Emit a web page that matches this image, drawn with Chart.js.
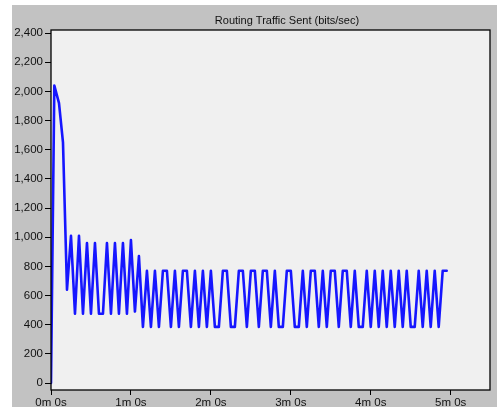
<!DOCTYPE html>
<html>
<head>
<meta charset="utf-8">
<script src="https://cdn.jsdelivr.net/npm/chart.js@4.4.0/dist/chart.umd.min.js"></script>
<style>
  html, body { margin: 0; padding: 0; background: #fff; overflow: hidden; }
  #wrap { width: 497px; height: 407px; position: relative; }
</style>
</head>
<body>
<div id="wrap"><canvas id="traffic"></canvas></div>
<script>
const chartTitle = 'Routing Traffic Sent (bits/sec)';

// sample times in seconds
const times = [
  0, 2.5, 6, 9, 12, 15, 18, 21, 24, 27, 30, 33, 36, 39, 42, 45, 48, 51, 54, 57,
  60, 63, 66, 69, 72, 75, 78, 81, 84, 87, 90, 93, 96, 99, 102, 105, 108, 111, 114, 117,
  120, 123, 126, 129, 132, 135, 138, 141, 144, 147, 150, 153, 156, 159, 162, 165, 168, 171, 174, 177,
  180, 183, 186, 189, 192, 195, 198, 201, 204, 207, 210, 213, 216, 219, 222, 225, 228, 231, 234, 237,
  240, 243, 246, 249, 252, 255, 258, 261, 264, 267, 270, 273, 276, 279, 282, 285, 288, 291, 294, 297
];

// bits/sec
const sent = [
  0, 2040, 1920, 1650, 640, 1010, 475, 1010, 475, 960, 475, 960, 475, 475, 960, 475, 960, 475, 960, 475,
  980, 490, 870, 385, 770, 385, 770, 385, 770, 770, 385, 770, 385, 770, 770, 385, 770, 385, 770, 385,
  770, 385, 385, 770, 770, 385, 385, 770, 770, 385, 770, 770, 385, 770, 770, 385, 770, 385, 385, 770,
  770, 385, 385, 770, 385, 770, 770, 385, 770, 385, 770, 770, 385, 770, 770, 385, 770, 385, 385, 770,
  385, 770, 385, 770, 385, 770, 385, 770, 385, 770, 385, 385, 770, 385, 770, 385, 770, 385, 770, 770
];

const yTicks = [0, 200, 400, 600, 800, 1000, 1200, 1400, 1600, 1800, 2000, 2200, 2400];
const xTicks = [0, 60, 120, 180, 240, 300];

const panel = {
  id: 'panel',
  beforeDraw(chart) {
    const ctx = chart.ctx;
    const a = chart.chartArea;
    ctx.save();
    ctx.fillStyle = '#ffffff';
    ctx.fillRect(0, 0, chart.width, chart.height);
    ctx.fillStyle = '#c2c2c2';
    ctx.fillRect(12, 5, chart.width - 12, chart.height - 5);
    ctx.fillStyle = '#f0f0f0';
    ctx.fillRect(a.left, a.top, a.right - a.left, a.bottom - a.top);
    ctx.fillStyle = '#111';
    ctx.font = '11px "Liberation Sans", Arial, sans-serif';
    ctx.textAlign = 'center';
    ctx.textBaseline = 'middle';
    ctx.fillText(chartTitle, 287, 21);
    ctx.restore();
  },
  afterDraw(chart) {
    const ctx = chart.ctx;
    const a = chart.chartArea;
    ctx.save();
    ctx.strokeStyle = '#000';
    ctx.lineWidth = 1.3;
    ctx.strokeRect(a.left, a.top, a.right - a.left, a.bottom - a.top);
    ctx.restore();
  }
};

const tickFont = { family: '"Liberation Sans", Arial, sans-serif', size: 11.5 };

new Chart(document.getElementById('traffic'), {
  type: 'line',
  data: {
    datasets: [{
      label: chartTitle,
      data: times.map((t, i) => ({ x: t, y: sent[i] })),
      borderColor: 'rgb(22, 22, 255)',
      borderWidth: 2.6,
      pointRadius: 0,
      tension: 0,
      borderJoinStyle: 'round',
      borderCapStyle: 'round'
    }]
  },
  options: {
    responsive: true,
    maintainAspectRatio: false,
    animation: false,
    layout: { padding: { left: 0, right: 7, top: 30, bottom: 0 } },
    plugins: {
      legend: { display: false },
      title: { display: false },
      tooltip: { enabled: false }
    },
    scales: {
      x: {
        type: 'linear',
        min: 0,
        max: 329.5,
        afterBuildTicks: s => { s.ticks = xTicks.map(v => ({ value: v })); },
        afterFit: s => { s.height = 17; },
        border: { display: false },
        grid: { drawOnChartArea: false, tickLength: 5, color: '#000', lineWidth: 1 },
        ticks: {
          color: '#111',
          font: tickFont,
          padding: 1,
          maxRotation: 0,
          autoSkip: false,
          callback: v => Math.floor(v / 60) + 'm ' + (v % 60) + 's'
        }
      },
      y: {
        min: -48,
        max: 2421,
        afterBuildTicks: s => { s.ticks = yTicks.map(v => ({ value: v })); },
        afterFit: s => { s.width = 51; },
        border: { display: false },
        grid: { drawOnChartArea: false, tickLength: 6, color: '#000', lineWidth: 1 },
        ticks: {
          color: '#111',
          font: tickFont,
          padding: 2,
          autoSkip: false,
          callback: v => v.toLocaleString('en-US')
        }
      }
    }
  },
  plugins: [panel]
});
</script>
</body>
</html>
